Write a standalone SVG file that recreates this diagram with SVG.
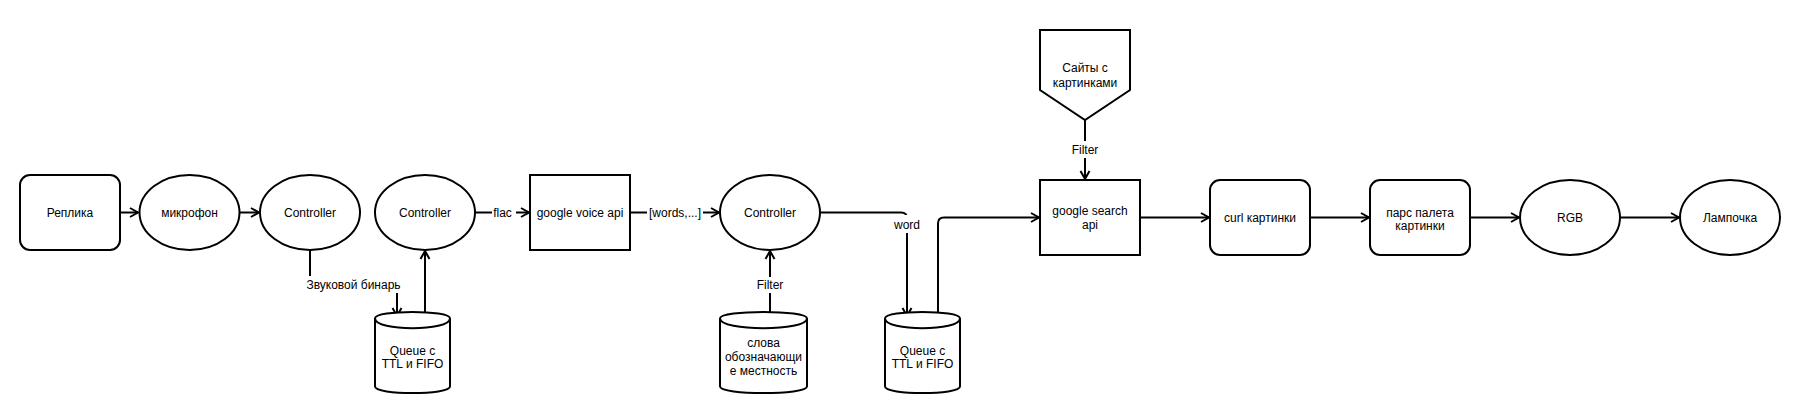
<svg xmlns="http://www.w3.org/2000/svg" width="1800" height="414" viewBox="0 0 1800 414">
<defs>
<style>
.s{fill:#fff;stroke:#000;stroke-width:2}
.c{fill:none;stroke:#000;stroke-width:2}
.a{fill:none;stroke:#000;stroke-width:2;marker-end:url(#arr)}
.t{font-family:"Liberation Sans",Arial,sans-serif;font-size:12px;fill:#000;text-anchor:middle}
.bg{fill:#fff;stroke:none}
</style>
<marker id="arr" markerUnits="userSpaceOnUse" markerWidth="14" markerHeight="14" refX="11" refY="7" orient="auto">
<path d="M3,2.5 L11,7 L3,11.5" fill="none" stroke="#000" stroke-width="2"/>
</marker>
</defs>
<rect width="1800" height="414" fill="#fff"/>

<g id="connectors">
<path class="a" d="M120,212.5 H138"/>
<path class="a" d="M239.5,212.5 H259"/>
<path class="a" d="M310,250 V285 H397 V316"/>
<path class="a" d="M425,319 V251"/>
<path class="a" d="M475,212.5 H529"/>
<path class="a" d="M630,212.5 H719"/>
<path class="a" d="M770,318 V251"/>
<path class="a" d="M820,212.5 H901 Q907,212.5 907,218.5 V316"/>
<path class="a" d="M938,319 V223.5 Q938,217.5 944,217.5 H1039"/>
<path class="a" d="M1085,120 V179"/>
<path class="a" d="M1140,217.5 H1209"/>
<path class="a" d="M1310,217.5 H1369"/>
<path class="a" d="M1470,217.5 H1519"/>
<path class="a" d="M1620,217.5 H1679"/>
<rect class="bg" x="306" y="276" width="96" height="17"/>
<text class="t" x="353.5" y="289">Звуковой бинарь</text>
<rect class="bg" x="492" y="205" width="24" height="16"/>
<text class="t" x="502.5" y="216.5">flac</text>
<rect class="bg" x="647" y="205" width="56" height="16"/>
<text class="t" x="675" y="216.5">[words,...]</text>
<rect class="bg" x="756" y="277" width="28" height="16"/>
<text class="t" x="770" y="289">Filter</text>
<rect class="bg" x="889" y="215" width="36" height="18"/>
<text class="t" x="907" y="229">word</text>
<rect class="bg" x="1071" y="141" width="28" height="17"/>
<text class="t" x="1085" y="154">Filter</text>
</g>

<g id="replika">
<rect class="s" x="20" y="175" width="100" height="75" rx="10"/>
<text class="t" x="70" y="216.5">Реплика</text>
</g>
<g id="microphone">
<ellipse class="s" cx="189.5" cy="212.5" rx="50" ry="37.5"/>
<text class="t" x="189.5" y="216.5">микрофон</text>
</g>
<g id="controller1">
<ellipse class="s" cx="310" cy="212.5" rx="50" ry="37.5"/>
<text class="t" x="310" y="216.5">Controller</text>
</g>
<g id="controller2">
<ellipse class="s" cx="425" cy="212.5" rx="50" ry="37.5"/>
<text class="t" x="425" y="216.5">Controller</text>
</g>
<g id="queue1">
<path class="s" d="M375,318.5 C375,309.8 450,309.8 450,318.5 L450,386.5 C450,395.2 375,395.2 375,386.5 Z"/>
<path class="c" d="M375,318.5 C375,331.5 450,331.5 450,318.5"/>
<text class="t" x="412.5" y="355">Queue с</text>
<text class="t" x="412.5" y="368">TTL и FIFO</text>
</g>
<g id="google-voice">
<rect class="s" x="530" y="175" width="100" height="75"/>
<text class="t" x="580" y="216.5">google voice api</text>
</g>
<g id="controller3">
<ellipse class="s" cx="770" cy="212.5" rx="50" ry="37.5"/>
<text class="t" x="770" y="216.5">Controller</text>
</g>
<g id="words-db">
<path class="s" d="M720,318.5 C720,309.8 807,309.8 807,318.5 L807,386.5 C807,395.2 720,395.2 720,386.5 Z"/>
<path class="c" d="M720,318.5 C720,331.5 807,331.5 807,318.5"/>
<text class="t" x="763.5" y="347">слова</text>
<text class="t" x="763.5" y="361">обозначающи</text>
<text class="t" x="763.5" y="375">е местность</text>
</g>
<g id="queue2">
<path class="s" d="M885,318.5 C885,309.8 960,309.8 960,318.5 L960,386.5 C960,395.2 885,395.2 885,386.5 Z"/>
<path class="c" d="M885,318.5 C885,331.5 960,331.5 960,318.5"/>
<text class="t" x="922.5" y="355">Queue с</text>
<text class="t" x="922.5" y="368">TTL и FIFO</text>
</g>
<g id="sites">
<polygon class="s" points="1040,30 1130,30 1130,90 1085,120 1040,90"/>
<text class="t" x="1085" y="72">Сайты с</text>
<text class="t" x="1085" y="87">картинками</text>
</g>
<g id="google-search">
<rect class="s" x="1040" y="180" width="100" height="75"/>
<text class="t" x="1090" y="215">google search</text>
<text class="t" x="1090" y="229">api</text>
</g>
<g id="curl">
<rect class="s" x="1210" y="180" width="100" height="75" rx="10"/>
<text class="t" x="1260" y="221.5">curl картинки</text>
</g>
<g id="parse">
<rect class="s" x="1370" y="180" width="100" height="75" rx="10"/>
<text class="t" x="1420" y="217">парс палета</text>
<text class="t" x="1420" y="230">картинки</text>
</g>
<g id="rgb">
<ellipse class="s" cx="1570" cy="217.5" rx="50" ry="37.5"/>
<text class="t" x="1570" y="221.5">RGB</text>
</g>
<g id="lamp">
<ellipse class="s" cx="1730" cy="217.5" rx="50" ry="37.5"/>
<text class="t" x="1730" y="221.5">Лампочка</text>
</g>
</svg>
